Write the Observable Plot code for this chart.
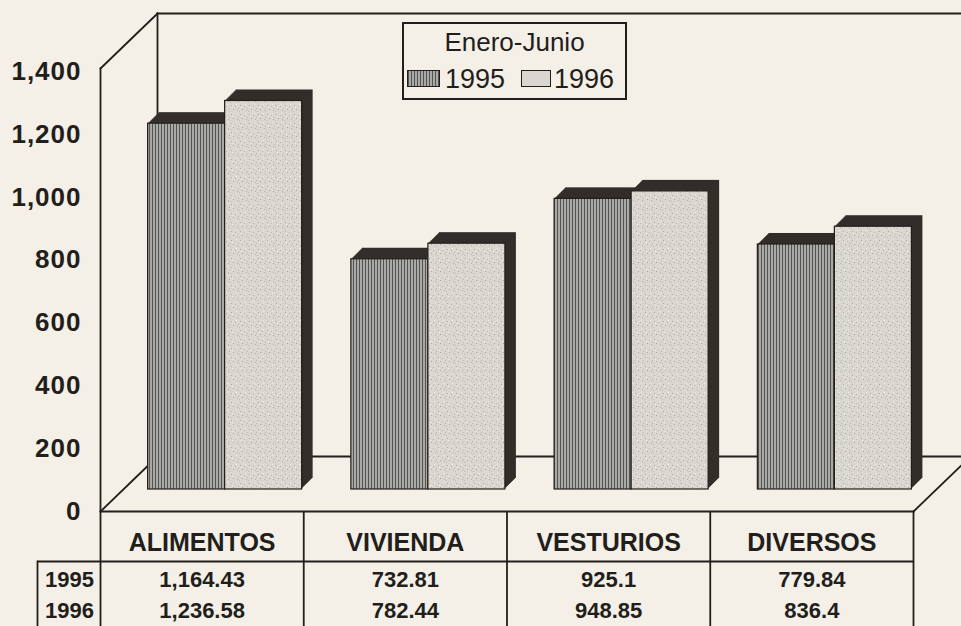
<!DOCTYPE html>
<html>
<head>
<meta charset="utf-8">
<script src="https://cdn.jsdelivr.net/npm/d3@7"></script>
<script src="https://cdn.jsdelivr.net/npm/@observablehq/plot@0.6"></script>
<style>
html, body { margin: 0; padding: 0; background: #f4f0e7; }
#wrap { position: relative; width: 961px; height: 626px; overflow: hidden; font-family: "Liberation Sans", Arial, sans-serif; color: #221e1b; }
#wrap svg { position: absolute; left: 0; top: 0; }
g[aria-label="y-axis tick label"] text { letter-spacing: 1px; }
g[aria-label="category labels"] text { letter-spacing: 0.6px; }
g[aria-label="table values"] text { letter-spacing: 0.5px; }
#legend { position: absolute; left: 402px; top: 22px; width: 221px; height: 74px; border: 2px solid #221e1b; background: #f4f0e7; }
#legend .title { position: absolute; left: 0; right: 0; top: 3px; text-align: center; font-size: 26px; line-height: 30px; }
#legend .sw { position: absolute; top: 46px; height: 15px; border: 1px solid #221e1b; }
#legend .lab { position: absolute; top: 40px; font-size: 27px; line-height: 30px; }
</style>
</head>
<body>
<div id="wrap"></div>
<script>
// ---- data ----
const categories = ["ALIMENTOS", "VIVIENDA", "VESTURIOS", "DIVERSOS"];
const values1995 = [1164.43, 732.81, 925.1, 779.84];
const values1996 = [1236.58, 782.44, 948.85, 836.4];
const years = ["1995", "1996"];
const yTicks = [0, 200, 400, 600, 800, 1000, 1200, 1400];
const legendTitle = "Enero-Junio";

// ---- layout / style ----
const W = 961, H = 626;
const mL = 100, mR = 48, mT = 68, mB = 115;
const bw = (W - mL - mR) / categories.length;
const ink = "#221e1b";
const dark = "#332e2a";
const back = {dx: 57, dy: -55};      // depth of the 3D box
const shift = {dx: 23, dy: -22};     // bars sit inside the box
const ext = 11;                      // bar extrusion
const gap = 24.6;
const line = {stroke: ink, strokeWidth: 1.8};
const seg = {draw(ctx, l) { ctx.moveTo(0, 0); ctx.lineTo(0, -l); }};
const diagLen = Math.hypot(back.dx, -back.dy);
const diagRot = Math.atan2(back.dx, -back.dy) * 180 / Math.PI;
const fmt = v => v.toLocaleString("en-US", {maximumFractionDigits: 2});

const rows95 = categories.map((c, i) => ({cat: c, v: values1995[i]}));
const rows96 = categories.map((c, i) => ({cat: c, v: values1996[i]}));

function box(rows, insetLeft, insetRight, fill) {
  const marks = [];
  for (let k = ext; k >= 1; k--) {
    marks.push(Plot.barY(rows, {x: "cat", y: "v", insetLeft, insetRight, fill: dark,
      dx: shift.dx + k, dy: shift.dy - k}));
  }
  marks.push(Plot.barY(rows, {x: "cat", y: "v", insetLeft, insetRight, fill,
    stroke: ink, strokeWidth: 1.2, dx: shift.dx, dy: shift.dy}));
  return marks;
}

const txt = {fill: ink, fontFamily: "Liberation Sans, Arial, sans-serif", fontWeight: "bold",
  textAnchor: "middle", lineAnchor: "middle"};

const plot = Plot.plot({
  width: W, height: H,
  marginLeft: mL, marginRight: mR, marginTop: mT, marginBottom: mB,
  style: {background: "transparent", color: ink, fontFamily: "Liberation Sans, Arial, sans-serif", overflow: "visible"},
  x: {type: "band", domain: categories, padding: 0, round: false, axis: null},
  y: {domain: [0, 1410], axis: null},
  marks: [
    // 3D box: back wall and floor
    Plot.frame({anchor: "top", ...back, ...line}),
    Plot.frame({anchor: "left", ...back, ...line}),
    Plot.frame({anchor: "bottom", ...back, ...line}),
    Plot.vector([0], {frameAnchor: "top-left", anchor: "start", length: diagLen, rotate: diagRot, shape: seg, ...line}),
    Plot.vector([0], {frameAnchor: "bottom-left", anchor: "start", length: diagLen, rotate: diagRot, shape: seg, ...line}),
    Plot.vector([0], {frameAnchor: "bottom-right", anchor: "start", length: diagLen, rotate: diagRot, shape: seg, ...line}),
    Plot.frame({anchor: "bottom", ...line}),
    Plot.frame({anchor: "left", insetBottom: -mB, ...line}),
    // bars
    ...box(rows95, gap, bw / 2, "url(#p95)"),
    ...box(rows96, bw / 2, gap, "url(#p96)"),
    // table grid
    Plot.ruleY([0], {dy: 50, insetLeft: -63, ...line}),
    Plot.ruleX(categories, {x: d => d, dx: bw / 2, insetTop: H - mT - mB, insetBottom: -mB, ...line}),
    Plot.frame({anchor: "left", dx: -63, insetTop: H - mT - mB + 50, insetBottom: -mB, ...line}),
    // table text
    Plot.text(categories, {x: d => d, frameAnchor: "bottom", dy: 31, fontSize: 25, ariaLabel: "category labels", ...txt}),
    Plot.text(rows95, {x: "cat", text: d => fmt(d.v), frameAnchor: "bottom", dy: 68, fontSize: 22, ariaLabel: "table values", ...txt}),
    Plot.text(rows96, {x: "cat", text: d => fmt(d.v), frameAnchor: "bottom", dy: 99, fontSize: 22, ariaLabel: "table values", ...txt}),
    Plot.text([years[0]], {frameAnchor: "bottom-left", dx: -31, dy: 68, fontSize: 22, ariaLabel: "row labels", ...txt}),
    Plot.text([years[1]], {frameAnchor: "bottom-left", dx: -31, dy: 99, fontSize: 22, ariaLabel: "row labels", ...txt}),
    // y axis labels
    Plot.axisY({ticks: yTicks, tickSize: 0, tickPadding: 19, tickFormat: d3.format(","), fontSize: 26,
      fontWeight: "bold", label: null, fill: ink})
  ]
});

const defs = `<defs>
<pattern id="p95" width="3" height="12" patternUnits="userSpaceOnUse">
  <rect width="3" height="12" fill="#a9a9a6"/><rect width="1" height="12" fill="#545452"/>
</pattern>
<pattern id="p96" width="9" height="9" patternUnits="userSpaceOnUse">
  <rect width="9" height="9" fill="#dad7d1"/>
  <rect x="1" y="1" width="1" height="1" fill="#aeaaa4"/>
  <rect x="5" y="2" width="1" height="1" fill="#bcb8b2"/>
  <rect x="3" y="5" width="1" height="1" fill="#a9a59f"/>
  <rect x="7" y="6" width="1" height="1" fill="#b5b1ab"/>
  <rect x="0" y="7" width="1" height="1" fill="#c0bcb6"/>
  <rect x="8" y="4" width="1" height="1" fill="#b9b5af"/>
  <rect x="6" y="0" width="1" height="1" fill="#f0ede8"/>
  <rect x="2" y="3" width="1" height="1" fill="#f0ede8"/>
</pattern>
</defs>`;
plot.insertAdjacentHTML("afterbegin", defs);

const wrap = document.getElementById("wrap");
wrap.appendChild(plot);

// legend
const legend = document.createElement("div");
legend.id = "legend";
legend.innerHTML = `<div class="title">${legendTitle}</div>
<div class="sw" style="left:3px;width:31px;background:repeating-linear-gradient(90deg,#545452 0 1px,#a9a9a6 1px 3px)"></div>
<div class="lab" style="left:41px">${years[0]}</div>
<div class="sw" style="left:117px;width:28px;background:#dad7d1"></div>
<div class="lab" style="left:150px">${years[1]}</div>`;
wrap.appendChild(legend);
</script>
</body>
</html>
